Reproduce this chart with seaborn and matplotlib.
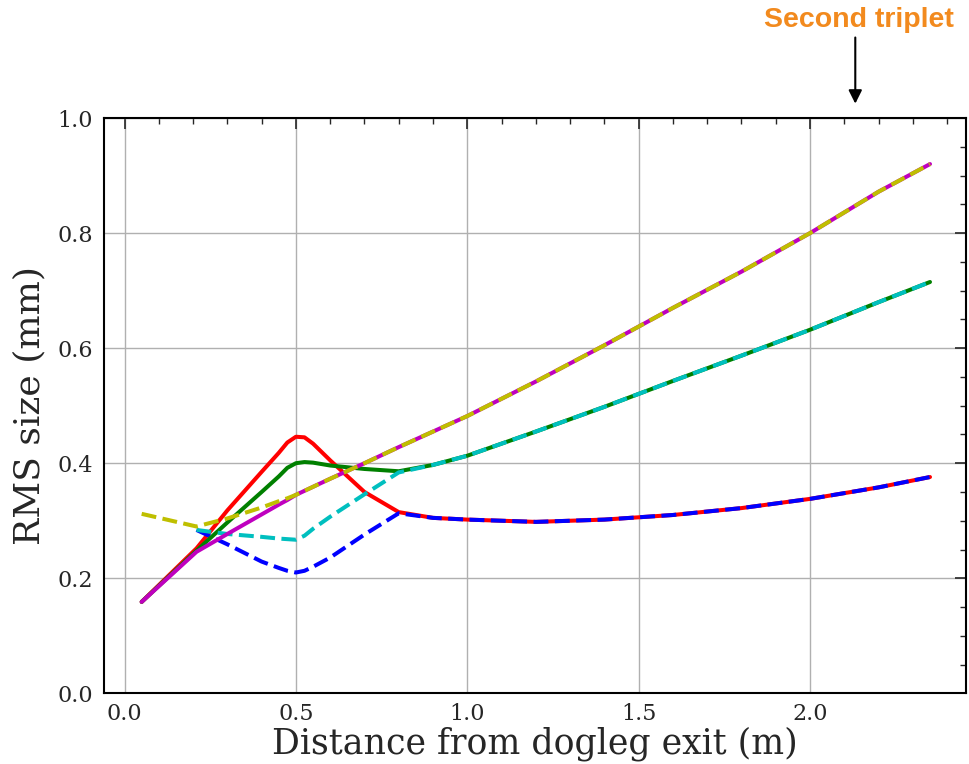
import numpy as np
import pandas as pd
import matplotlib
matplotlib.use("Agg")
import matplotlib.pyplot as plt
import seaborn as sns
from matplotlib.ticker import MultipleLocator

# ---- data ----
x_main = [0.05, 0.21, 0.30, 0.40, 0.45, 0.475, 0.50, 0.525, 0.55, 0.60, 0.70, 0.80, 0.90,
          1.00, 1.20, 1.40, 1.60, 1.80, 2.00, 2.20, 2.35]
red = [0.159, 0.252, 0.318, 0.385, 0.418, 0.436, 0.446, 0.445, 0.434, 0.405, 0.350, 0.315, 0.305,
       0.302, 0.298, 0.302, 0.310, 0.322, 0.338, 0.358, 0.376]
green = [0.159, 0.248, 0.297, 0.350, 0.377, 0.392, 0.400, 0.402, 0.401, 0.396, 0.390, 0.386, 0.397,
         0.413, 0.455, 0.498, 0.543, 0.587, 0.632, 0.680, 0.715]
magenta = [0.159, 0.246, 0.277, 0.311, 0.328, 0.336, 0.345, 0.352, 0.359, 0.373, 0.400, 0.428, 0.455,
           0.482, 0.542, 0.605, 0.670, 0.733, 0.800, 0.872, 0.920]
yellow = [0.312, 0.290, 0.304, 0.323, 0.334, 0.339, 0.345, 0.352, 0.359, 0.373, 0.400, 0.428, 0.455,
          0.482, 0.542, 0.605, 0.670, 0.733, 0.800, 0.872, 0.920]
x_late = x_main[1:]
blue = [0.284, 0.259, 0.229, 0.218, 0.213, 0.210, 0.213, 0.220, 0.236, 0.276, 0.313, 0.305,
        0.302, 0.298, 0.302, 0.310, 0.322, 0.338, 0.358, 0.376]
cyan = [0.284, 0.277, 0.272, 0.269, 0.268, 0.267, 0.274, 0.286, 0.307, 0.346, 0.384, 0.397,
        0.413, 0.455, 0.498, 0.543, 0.587, 0.632, 0.680, 0.715]

xlabel = "Distance from dogleg exit (m)"
ylabel = "RMS size (mm)"
annot_text = "Second triplet"
annot_x = 2.132

# ---- style ----
sns.set_style("white")
plt.rcParams.update({
    "font.family": ["DejaVu Serif"],
    "xtick.direction": "in", "ytick.direction": "in",
    "xtick.top": True, "ytick.right": True,
    "xtick.major.size": 8, "ytick.major.size": 8,
    "xtick.minor.size": 4.5, "ytick.minor.size": 4.5,
    "xtick.major.width": 1.2, "ytick.major.width": 1.2,
    "xtick.minor.width": 1.0, "ytick.minor.width": 1.0,
    "axes.linewidth": 1.5, "axes.edgecolor": "black",
})

fig = plt.figure(figsize=(9.69, 7.64), dpi=100)
ax = fig.add_axes([0.1073, 0.0925, 0.8896, 0.7530])

lw = 2.9
series = [
    (x_main, red, "r", "-"),
    (x_late, blue, "b", "--"),
    (x_main, green, "g", "-"),
    (x_late, cyan, "c", "--"),
    (x_main, magenta, "m", "-"),
    (x_main, yellow, "y", "--"),
]
for xs, ys, c, ls in series:
    df = pd.DataFrame({"x": xs, "y": ys})
    sns.lineplot(data=df, x="x", y="y", color=c, linestyle=ls, linewidth=lw,
                 ax=ax, sort=False, estimator=None)

ax.set_ylim(0.0, 1.0)
ax.set_xlim(-0.06, 2.455)
ax.xaxis.set_major_locator(MultipleLocator(0.5))
ax.xaxis.set_minor_locator(MultipleLocator(0.1))
ax.yaxis.set_major_locator(MultipleLocator(0.2))
ax.yaxis.set_minor_locator(MultipleLocator(0.05))
ax.grid(True, which="major", color="#b0b0b0", linewidth=1.0)
ax.tick_params(which="major", labelsize=16)
ax.tick_params(axis="y", which="major", pad=8)
ax.tick_params(axis="x", which="major", pad=7)
ax.set_xlabel(xlabel, fontsize=25, labelpad=1)
ax.set_ylabel(ylabel, fontsize=26, labelpad=8)
for s in ax.spines.values():
    s.set_visible(True)

ax.annotate("", xy=(annot_x, 1.025), xytext=(annot_x, 1.14),
            xycoords="data", textcoords="data", annotation_clip=False,
            arrowprops=dict(arrowstyle="-|>", color="black", lw=1.5,
                            mutation_scale=20, shrinkA=0, shrinkB=0))
ax.text(annot_x + 0.012, 1.170, annot_text, color="#F28A1E", fontsize=20.5,
        fontweight="bold", family=["Liberation Sans"], ha="center", va="center",
        transform=ax.transData, clip_on=False)

fig.savefig("out.png", dpi=100)
